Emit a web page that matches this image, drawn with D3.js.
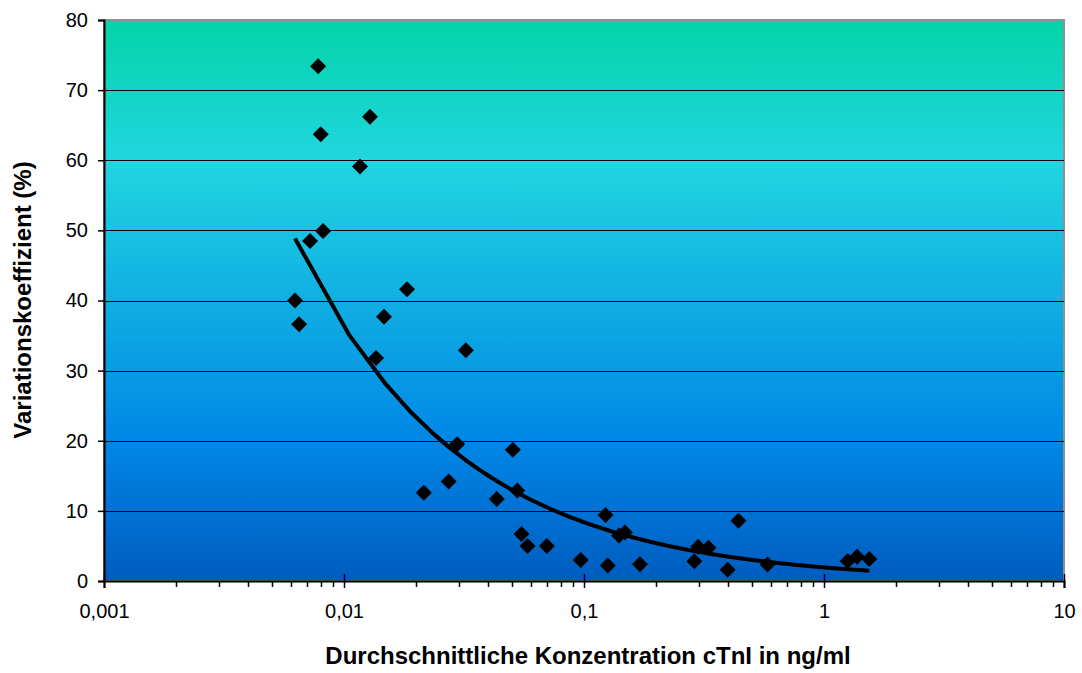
<!DOCTYPE html>
<html>
<head>
<meta charset="utf-8">
<script src="https://cdn.jsdelivr.net/npm/d3@7/dist/d3.min.js"></script>
<style>
  html, body { margin: 0; padding: 0; background: #ffffff; }
  svg { display: block; font-family: Arial, "Liberation Sans", sans-serif; }
</style>
</head>
<body>
<svg id="chart" width="1082" height="673"></svg>
<script>
// Mean cTnI concentration (ng/ml) per sample
const concentration = [
  0.0078, 0.0080, 0.01283, 0.01166, 0.00818, 0.00722, 0.00625, 0.0065,
  0.0183, 0.01468, 0.0136, 0.0322, 0.0296, 0.0215, 0.0273, 0.0505,
  0.0527, 0.0433, 0.0549, 0.0582, 0.0700, 0.0969, 0.1256, 0.1230,
  0.1400, 0.1480, 0.1710, 0.2884, 0.2990, 0.3300, 0.3970, 0.4400,
  0.5820, 1.255, 1.373, 1.545
];
// Coefficient of variation (%) per sample
const variation = [
  73.4, 63.7, 66.2, 59.1, 49.9, 48.5, 40.0, 36.6,
  41.6, 37.7, 31.8, 32.9, 19.5, 12.6, 14.2, 18.7,
  12.9, 11.7, 6.7, 5.0, 5.0, 3.0, 2.2, 9.4,
  6.5, 6.9, 2.4, 2.8, 4.9, 4.75, 1.6, 8.6,
  2.35, 2.85, 3.47, 3.14
];
const xTickValues = [0.001, 0.01, 0.1, 1, 10];
const xTickLabels = ["0,001", "0,01", "0,1", "1", "10"];
const yTickValues = [0, 10, 20, 30, 40, 50, 60, 70, 80];

const margin = { left: 104, top: 20, right: 1064, bottom: 581 };
const svg = d3.select("#chart");

const x = d3.scaleLog().domain([0.001, 10]).range([margin.left, margin.right]);
const y = d3.scaleLinear().domain([0, 80]).range([margin.bottom, margin.top]);

// Plot area background gradient
const defs = svg.append("defs");
const grad = defs.append("linearGradient")
  .attr("id", "ocean").attr("x1", 0).attr("y1", 0).attr("x2", 0).attr("y2", 1);
[["0%", "#03D4A8"], ["25%", "#21D6E0"], ["75%", "#0087E6"], ["100%", "#005CBF"]]
  .forEach(([o, c]) => grad.append("stop").attr("offset", o).attr("stop-color", c));

svg.append("rect")
  .attr("x", margin.left).attr("y", margin.top)
  .attr("width", margin.right - margin.left)
  .attr("height", margin.bottom - margin.top)
  .attr("fill", "url(#ocean)")
  .attr("stroke", "#8f8f8f").attr("stroke-width", 2);

// Horizontal gridlines
svg.append("g").selectAll("line")
  .data(yTickValues.filter(v => v > 0 && v < 80))
  .join("line")
  .attr("x1", margin.left).attr("x2", margin.right)
  .attr("y1", d => Math.round(y(d)) + 0.5).attr("y2", d => Math.round(y(d)) + 0.5)
  .attr("stroke", "#000").attr("stroke-width", 1);

// Y axis
const yAxis = d3.axisLeft(y).tickValues(yTickValues).tickSize(6).tickPadding(10)
  .tickFormat(d3.format("d"));
const gy = svg.append("g").attr("transform", `translate(${margin.left},0)`).call(yAxis);
gy.select(".domain").attr("stroke", "#000").attr("stroke-width", 2);
gy.selectAll(".tick line").attr("stroke", "#000").attr("stroke-width", 1.5);
gy.selectAll(".tick text").attr("font-size", 20).attr("fill", "#000")
  .attr("font-family", "Arial, 'Liberation Sans', sans-serif");

// X axis: minor ticks (outside) and decade ticks (cross)
const minorTicks = [];
for (let d = 0.001; d < 10; d *= 10) {
  for (let k = 2; k <= 9; k++) minorTicks.push(d * k);
}
svg.append("g").selectAll("line").data(minorTicks).join("line")
  .attr("x1", d => Math.round(x(d)) + 0.5).attr("x2", d => Math.round(x(d)) + 0.5)
  .attr("y1", margin.bottom).attr("y2", margin.bottom + 6)
  .attr("stroke", "#000").attr("stroke-width", 1.5);

const xAxis = d3.axisBottom(x).tickValues(xTickValues).tickSize(7).tickPadding(16)
  .tickFormat((d, i) => xTickLabels[i]);
const gx = svg.append("g").attr("transform", `translate(0,${margin.bottom})`).call(xAxis);
gx.select(".domain").attr("stroke", "#000").attr("stroke-width", 2);
gx.selectAll(".tick line").attr("y1", -7).attr("stroke", "#000").attr("stroke-width", 1.5);
gx.selectAll(".tick text").attr("font-size", 20).attr("fill", "#000")
  .attr("font-family", "Arial, 'Liberation Sans', sans-serif");

// Power trend line fitted by least squares in log-log space
const lx = concentration.map(Math.log), ly = variation.map(Math.log);
const mx = d3.mean(lx), my = d3.mean(ly);
const b = d3.sum(lx.map((v, i) => (v - mx) * (ly[i] - my))) / d3.sum(lx.map(v => (v - mx) ** 2));
const a = Math.exp(my - b * mx);
const xMin = d3.min(concentration), xMax = d3.max(concentration);
const steps = 360;
const trend = d3.range(steps + 1).map(i => {
  const cx = xMin + (xMax - xMin) * i / steps;
  return [cx, a * Math.pow(cx, b)];
});

svg.append("path")
  .datum(trend)
  .attr("d", d3.line().x(d => x(d[0])).y(d => y(d[1])))
  .attr("fill", "none").attr("stroke", "#000").attr("stroke-width", 4)
  .attr("stroke-linejoin", "round");

// Data points as diamonds
const diamond = d3.symbol().type(d3.symbolSquare).size(128);
svg.append("g").selectAll("path")
  .data(concentration.map((c, i) => [c, variation[i]]))
  .join("path")
  .attr("d", diamond)
  .attr("transform", d => `translate(${x(d[0])},${y(d[1])}) rotate(45)`)
  .attr("fill", "#000");

// Axis titles
svg.append("text")
  .attr("x", (margin.left + margin.right) / 2 + 4).attr("y", 664)
  .attr("text-anchor", "middle")
  .attr("font-size", 24).attr("font-weight", "bold").attr("fill", "#000")
  .text("Durchschnittliche Konzentration cTnI in ng/ml");

svg.append("text")
  .attr("transform", "translate(31,300) rotate(-90)")
  .attr("text-anchor", "middle")
  .attr("font-size", 24).attr("font-weight", "bold").attr("fill", "#000")
  .text("Variationskoeffizient (%)");
</script>
</body>
</html>
